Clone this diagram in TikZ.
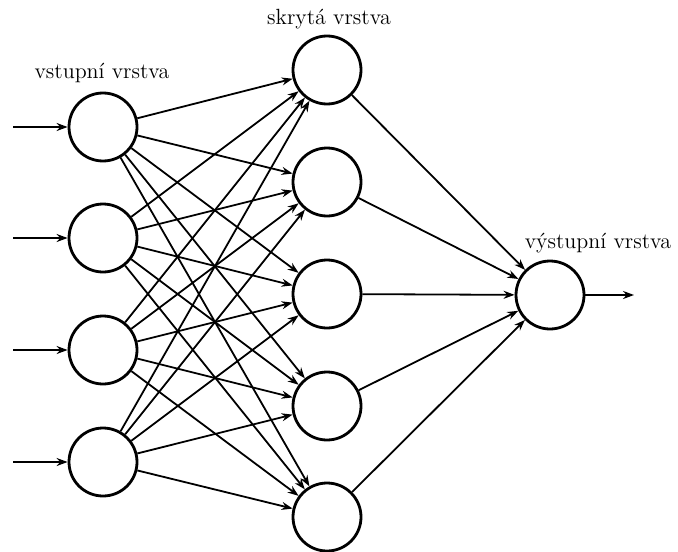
\documentclass[tikz,border=0pt]{standalone}
\usetikzlibrary{arrows.meta}
\begin{document}
\begin{tikzpicture}[x=0.5pt,y=-0.5pt,
  neuron/.style={circle,draw,line width=1.4pt,minimum size=34pt,inner sep=0pt},
  conn/.style={line width=0.9pt,-{Stealth[length=5.5pt,width=4pt]}},
  lbl/.style={font=\fontsize{11}{13}\selectfont,inner sep=0pt}]
\useasboundingbox (0,0) rectangle (678,551);
% input layer
\foreach \i/\y in {1/127,2/238,3/350,4/462}{
  \node[neuron] (i\i) at (103,\y) {};
  \coordinate (s\i) at (13,\y);
}
% hidden layer
\foreach \j/\y in {1/70,2/182,3/294,4/406,5/517}{
  \node[neuron] (h\j) at (327,\y) {};
}
% output
\node[neuron] (o) at (550,295) {};
\coordinate (e) at (634,295);
% labels
\node[lbl] (l1) at (102,73) {vstupní vrstva};
\node[lbl] (l2) at (329,19) {skrytá vrstva};
\node[lbl] (l3) at (598,243) {výstupní vrstva};
% connections
\foreach \i in {1,...,4}{
  \draw[conn] (s\i) -- (i\i);
  \foreach \j in {1,...,5}{
    \draw[conn] (i\i) -- (h\j);
  }
}
\foreach \j in {1,...,5}{
  \draw[conn] (h\j) -- (o);
}
\draw[conn] (o) -- (e);
\end{tikzpicture}
\end{document}
